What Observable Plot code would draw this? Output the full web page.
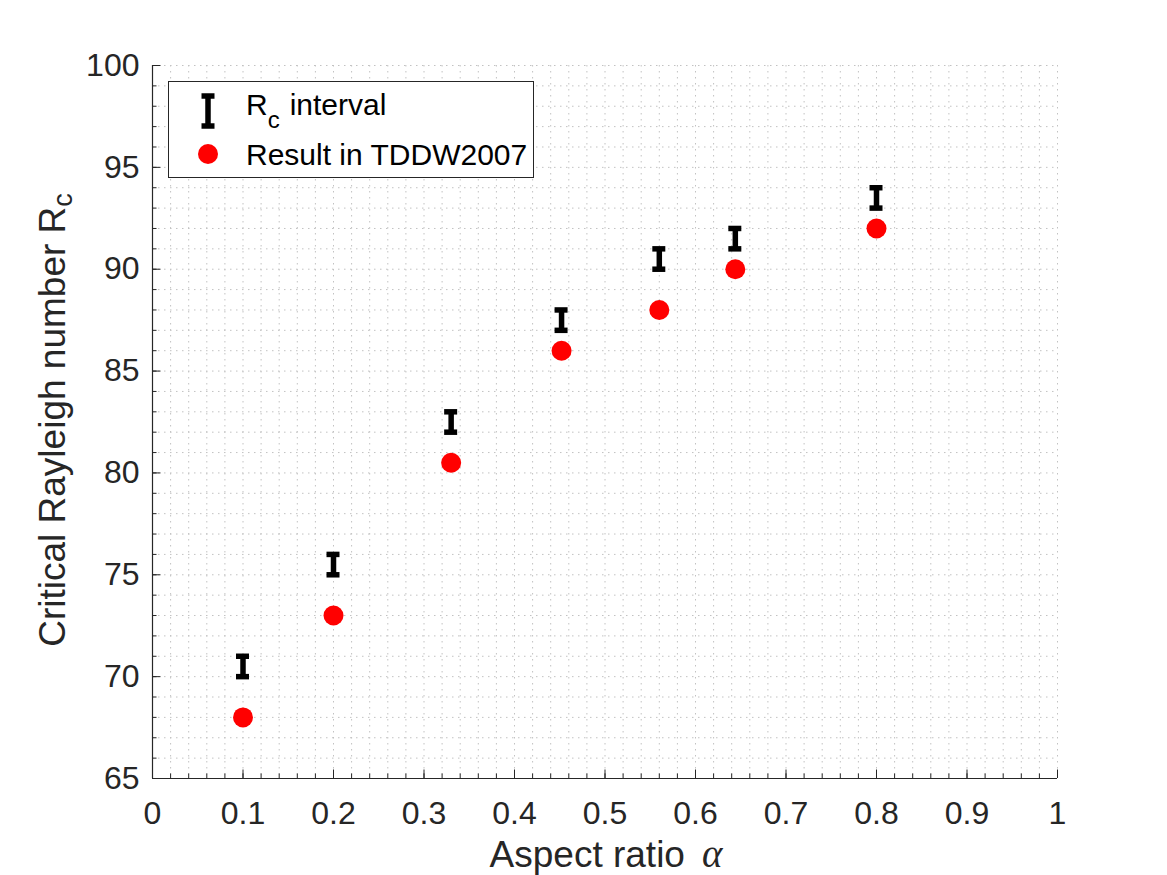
<!DOCTYPE html>
<html>
<head>
<meta charset="utf-8">
<script src="https://cdn.jsdelivr.net/npm/d3@7"></script>
<script src="https://cdn.jsdelivr.net/npm/@observablehq/plot@0.6"></script>
<style>
  html, body { margin: 0; padding: 0; background: #fff; }
  #chart { width: 1167px; height: 875px; }
</style>
</head>
<body>
<div id="chart"></div>
<script>
// Aspect ratios studied and the critical Rayleigh number bounds found for each
const aspectRatio = [0.1, 0.2, 0.33, 0.452, 0.56, 0.644, 0.8];
const rcLower = [70, 75, 82, 87, 90, 91, 93];
const rcUpper = [71, 76, 83, 88, 91, 92, 94];
// Reference values reported in TDDW2007
const rcTDDW2007 = [68, 73, 80.5, 86, 88, 90, 92];

// Tick positions
const xMajorTicks = [0, 0.1, 0.2, 0.3, 0.4, 0.5, 0.6, 0.7, 0.8, 0.9, 1];
const yMajorTicks = [65, 70, 75, 80, 85, 90, 95, 100];
const xMinorTicks = d3.range(0, 51).map(i => i / 50);
const yMinorTicks = d3.range(65, 101);

const intervals = aspectRatio.map((a, i) => ({alpha: a, lo: rcLower[i], hi: rcUpper[i]}));
const caps = intervals.flatMap(d => [{alpha: d.alpha, rc: d.lo}, {alpha: d.alpha, rc: d.hi}]);
const results = aspectRatio.map((a, i) => ({alpha: a, rc: rcTDDW2007[i]}));

const ink = "#262626";
const gridColor = "#c2c2c2";
const font = "'Liberation Sans', Arial, Helvetica, sans-serif";

const chart = Plot.plot({
  width: 1167,
  height: 875,
  marginLeft: 152,
  marginRight: 110,
  marginTop: 65,
  marginBottom: 97,
  style: {fontFamily: font, color: ink, background: "#fff", overflow: "visible"},
  x: {domain: [0, 1]},
  y: {domain: [65, 100]},
  marks: [
    // dotted grid on every minor step
    Plot.gridX(xMinorTicks, {stroke: gridColor, strokeOpacity: 1, strokeDasharray: "1.5,4.5"}),
    Plot.gridY(yMinorTicks, {stroke: gridColor, strokeOpacity: 1, strokeDasharray: "1.5,4.5"}),
    // axis lines
    Plot.ruleX([0], {stroke: ink, strokeWidth: 1.2}),
    Plot.ruleY([65], {stroke: ink, strokeWidth: 1.2}),
    // inward tick marks
    Plot.ruleX(xMinorTicks, {y1: 65, y2: 65, insetTop: -4.5, stroke: ink}),
    Plot.ruleX(xMajorTicks, {y1: 65, y2: 65, insetTop: -8.5, stroke: ink}),
    Plot.ruleY(yMinorTicks, {x1: 0, x2: 0, insetRight: -4.5, stroke: ink}),
    Plot.ruleY(yMajorTicks, {x1: 0, x2: 0, insetRight: -8.5, stroke: ink}),
    // tick labels
    Plot.axisX(xMajorTicks, {tickSize: 0, tickPadding: 23, fontSize: 32, tickFormat: d3.format("~g"), label: null}),
    Plot.axisY(yMajorTicks, {tickSize: 0, tickPadding: 13, fontSize: 32, tickFormat: d3.format("~g"), label: null}),
    // Rc intervals
    Plot.ruleX(intervals, {x: "alpha", y1: "lo", y2: "hi", stroke: "#000", strokeWidth: 5.5}),
    Plot.ruleY(caps, {x1: "alpha", x2: "alpha", y: "rc", insetLeft: -6.5, insetRight: -6.5, stroke: "#000", strokeWidth: 5.5}),
    // TDDW2007 results
    Plot.dot(results, {x: "alpha", y: "rc", r: 10, fill: "#ff0000", stroke: "none"})
  ]
});

document.getElementById("chart").appendChild(chart);

const svg = d3.select(chart);

// x-axis title
const xt = svg.append("text")
  .attr("x", 606).attr("y", 867)
  .attr("text-anchor", "middle")
  .attr("font-family", font).attr("font-size", 37).attr("fill", ink);
xt.append("tspan").text("Aspect ratio");
xt.append("tspan").attr("dx", 17)
  .attr("font-family", "'Liberation Serif', 'DejaVu Serif', serif")
  .attr("font-style", "italic").attr("font-size", 39).text("α");

// y-axis title with subscript
const yt = svg.append("text")
  .attr("transform", "translate(65,420) rotate(-90)")
  .attr("text-anchor", "middle")
  .attr("font-family", font).attr("font-size", 37).attr("fill", ink);
yt.append("tspan").text("Critical Rayleigh number R");
yt.append("tspan").attr("dy", 7).attr("font-size", 27).text("c");

// legend
const lg = svg.append("g")
  .attr("font-family", font).attr("font-size", 30).attr("fill", "#000")
  .attr("text-anchor", "start");
lg.append("rect")
  .attr("x", 168.5).attr("y", 81.5).attr("width", 365).attr("height", 96)
  .attr("fill", "#fff").attr("stroke", ink).attr("stroke-width", 1);
// interval glyph
lg.append("line").attr("x1", 208).attr("x2", 208).attr("y1", 96).attr("y2", 126)
  .attr("stroke", "#000").attr("stroke-width", 5.5);
lg.append("line").attr("x1", 201.5).attr("x2", 214.5).attr("y1", 96).attr("y2", 96)
  .attr("stroke", "#000").attr("stroke-width", 5.5);
lg.append("line").attr("x1", 201.5).attr("x2", 214.5).attr("y1", 126).attr("y2", 126)
  .attr("stroke", "#000").attr("stroke-width", 5.5);
const t1 = lg.append("text").attr("x", 246).attr("y", 115).attr("text-anchor", "start");
t1.append("tspan").text("R");
t1.append("tspan").attr("dy", 12.5).attr("font-size", 24).text("c");
t1.append("tspan").attr("dy", -12.5).attr("dx", 10).text("interval");
// result glyph
lg.append("circle").attr("cx", 208).attr("cy", 154).attr("r", 10).attr("fill", "#ff0000");
lg.append("text").attr("x", 246).attr("y", 165).attr("text-anchor", "start").text("Result in TDDW2007");
</script>
</body>
</html>
